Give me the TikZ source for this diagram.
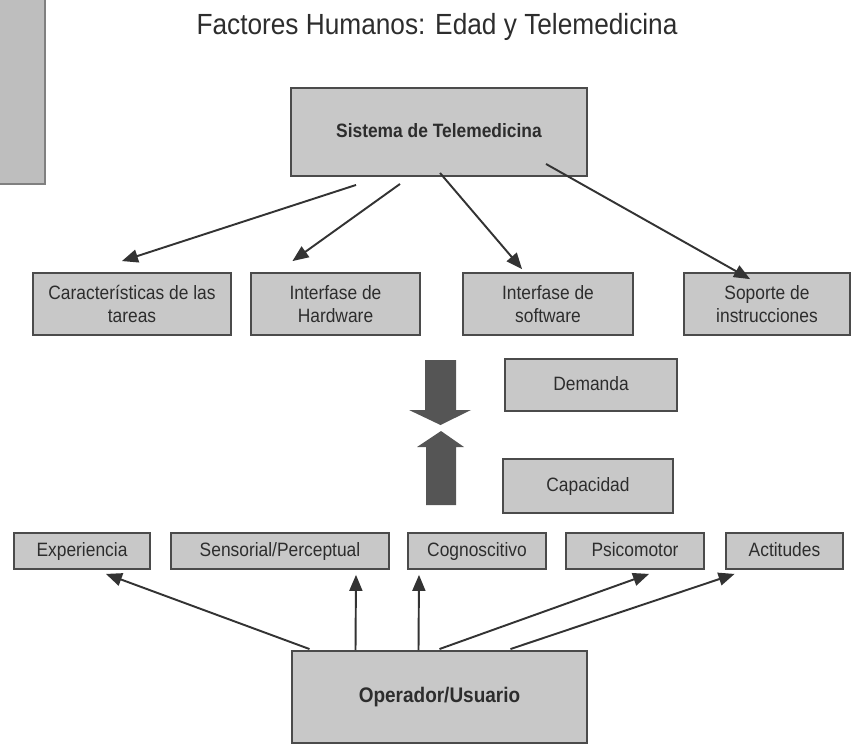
\documentclass[tikz,border=0pt]{standalone}
\usepackage{fontspec}
\setmainfont{Liberation Sans}[FakeStretch=0.9]
\usepackage{tikz}
\usetikzlibrary{arrows}
\usetikzlibrary{calc}
\usetikzlibrary{positioning}
\definecolor{boxgray}{RGB}{200,200,200}
\definecolor{edgegray}{RGB}{75,75,75}
\definecolor{txtgray}{RGB}{45,45,45}
\definecolor{bigarrow}{RGB}{85,85,85}
\tikzstyle{box}=[rectangle,draw=edgegray,fill=boxgray,line width=1.1pt,inner sep=0pt,align=center,text=txtgray,font=\fontsize{11}{13}\selectfont]
\tikzstyle{oneline}=[text height=1.6ex,text depth=0.4ex]
\tikzstyle{edge} = [draw,line width=1.1pt,black!80,-triangle 45]
\tikzstyle{title} = [text=txtgray,font=\fontsize{16.6}{19}\selectfont]

\begin{document}
\begin{tikzpicture}[x=0.02cm,y=-0.02cm]

  \def\u{0.02cm};
  \useasboundingbox (0,0) rectangle (853,744);

  % cut box at the left border
  \draw[draw=gray, fill=boxgray!95!black, line width=1pt] (-5,-5) rectangle (45,184);

  \node[title] (title) at (437,27) {Factores Humanos: Edad y Telemedicina};

   \foreach \x/\y/\w/\h/\name/\label in {439/132/296/88/sys/{\textbf{Sistema de Telemedicina}}}
          \node[box, oneline, minimum width=\w*\u, minimum height=\h*\u] (\name) at (\x,\y) {\label};

   \foreach \x/\y/\w/\h/\name/\label in {132/304/198/62/tareas/{Características de las\\tareas}, 335.5/304/169/62/hard/{Interfase de\\Hardware}, 548/304/170/62/soft/{Interfase de\\software}, 767/304/166/62/soporte/{Soporte de\\instrucciones}}
          \node[box, minimum width=\w*\u, minimum height=\h*\u] (\name) at (\x,\y) {\label};

   \foreach \x/\y/\w/\h/\name/\label in {591/385/172/52/demanda/Demanda, 588/486/170/54/capacidad/Capacidad}
          \node[box, oneline, minimum width=\w*\u, minimum height=\h*\u] (\name) at (\x,\y) {\label};

   \foreach \x/\y/\w/\h/\name/\label in {82/551/136/36/exp/Experiencia, 280/551/218/36/sens/{Sensorial/Perceptual}, 477/551/138/36/cogn/Cognoscitivo, 635/551/138/36/psic/Psicomotor, 784.5/551/117/36/act/Actitudes}
          \node[box, oneline, minimum width=\w*\u, minimum height=\h*\u] (\name) at (\x,\y) {\label};

   \foreach \x/\y/\w/\h/\name/\label in {439.5/697/295/92/oper/{\textbf{Operador/Usuario}}}
          \node[box, oneline, font=\fontsize{12}{14}\selectfont, minimum width=\w*\u, minimum height=\h*\u] (\name) at (\x,\y) {\label};

  % demand and capacity arrows
  \fill[bigarrow] (425,360) -- (456,360) -- (456,410) -- (471,410) -- (440.5,425) -- (409,410) -- (425,410) -- cycle;
  \fill[bigarrow] (426,505) -- (456,505) -- (456,447) -- (464,447) -- (441,431) -- (417,447) -- (426,447) -- cycle;

  \foreach \source/\sx/\sy/\dest/\dx/\dy in {sys/-83/8/tareas/-10/-11, sys/-39/7/hard/-43/-11, sys/1/-4/soft/-26/-3, sys/107/-13/soporte/-17/7}
         \path[edge] ($(\source.south)+(\sx,\sy)$) -- ($(\dest.north)+(\dx,\dy)$);

  \foreach \source/\sx/\sy/\dest/\dx/\dy in {oper/-130/-1/exp/24/4, oper/-84/0/sens/76/5, oper/-21/0/cogn/-58/5, oper/0/-1/psic/14/4, oper/71/-1/act/-50/4}
         \path[edge] ($(\source.north)+(\sx,\sy)$) -- ($(\dest.south)+(\dx,\dy)$);

\end{tikzpicture}
\end{document}
